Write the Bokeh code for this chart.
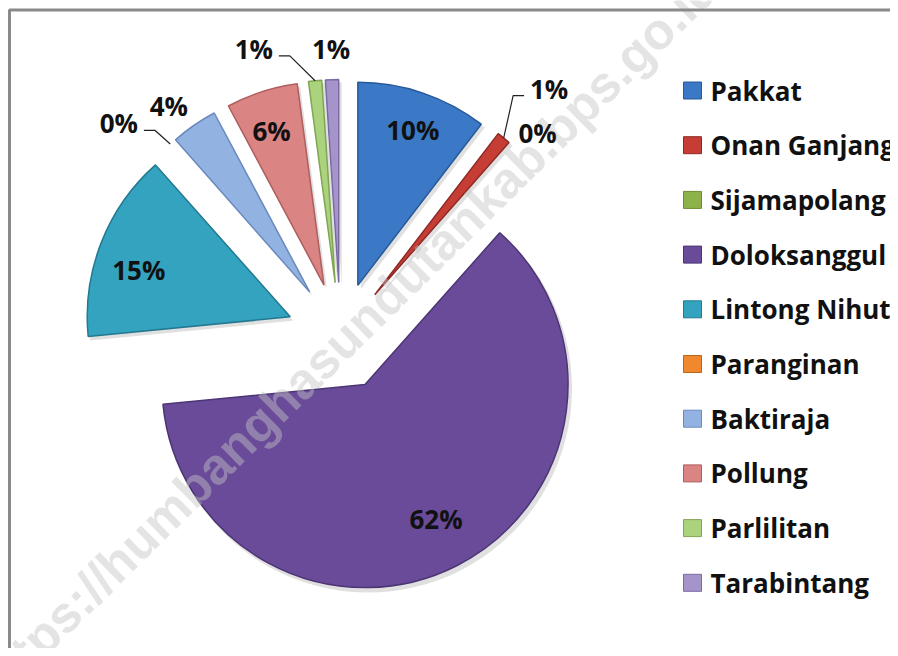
import math
from bokeh.plotting import figure
from bokeh.models import Range1d
from bokeh.core.properties import value
from bokeh.embed import file_html
from bokeh.resources import INLINE

# ---- data ----
categories = ["Pakkat", "Onan Ganjang", "Sijamapolang", "Doloksanggul", "Lintong Nihuta",
              "Paranginan", "Baktiraja", "Pollung", "Parlilitan", "Tarabintang"]
shares = [10.4, 1.1, 0.05, 61.9, 15.0, 0.05, 3.7, 5.7, 1.05, 1.05]

# ---- style ----
fill_colors = ["#3B79C6", "#C63D36", "#8DB24A", "#6A4B99", "#33A3C0",
               "#F0892E", "#92B2E2", "#DB8484", "#ABD27D", "#A494CA"]
edge_colors = ["#28599A", "#8E2A25", "#6A8C33", "#4C3574", "#237A90",
               "#B8661E", "#6A8ABD", "#AE5E5E", "#80A553", "#7A6AA4"]
# label placement: (radius factor from exploded apex, angle tweak in degrees)
label_place = [(0.81, 0.8), (1.33, 0.8), (1.13, 3.2), (0.75, -0.8), (0.78, -4.4),
               (1.25, -5.6), (1.15, -2.4), (0.80, -1.0), (1.22, -13.5), (1.15, 0.0)]
has_leader = [False, True, False, False, False, True, False, False, True, False]

W, H = 890, 648
CX, CY = 340, 312      # pie centre (data = pixel units)
R = 203
EXPLODE = 54
FONT = value("Open Sans")

p = figure(width=W, height=H, output_backend="svg", toolbar_location=None,
           x_range=Range1d(0, W), y_range=Range1d(0, H),
           x_axis_type=None, y_axis_type=None,
           min_border=0, min_border_left=0, min_border_right=0,
           min_border_top=0, min_border_bottom=0)
p.grid.visible = False
p.outline_line_color = None
p.background_fill_color = "white"
p.border_fill_color = "white"

total = sum(shares)
cum = 0.0
starts, ends, mids = [], [], []
for v in shares:
    a0 = cum / total * 360.0
    cum += v
    a1 = cum / total * 360.0
    starts.append(a0)
    ends.append(a1)
    mids.append((a0 + a1) / 2)

ax = [CX + EXPLODE * math.sin(math.radians(m)) for m in mids]
ay = [CY + EXPLODE * math.cos(math.radians(m)) for m in mids]
start_ang = [math.radians(90 - e) for e in ends]
end_ang = [math.radians(90 - s) for s in starts]
edge_alpha = [1.0 if v >= 0.5 else 0.0 for v in shares]
fill_alpha = [1.0 if v >= 0.5 else 0.0 for v in shares]

# soft shadow
p.wedge(x=[x + 3 for x in ax], y=[y - 4 for y in ay], radius=R + 1, radius_units="data",
        start_angle=start_ang, end_angle=end_ang,
        fill_color="#000000", fill_alpha=[0.12 * a for a in fill_alpha], line_color=None)

p.wedge(x=ax, y=ay, radius=R, radius_units="data",
        start_angle=start_ang, end_angle=end_ang,
        fill_color=fill_colors, fill_alpha=fill_alpha,
        line_color=edge_colors, line_alpha=edge_alpha, line_width=1.5)

# watermark
p.text(x=[-16], y=[-44], text=["https://humbanghasundutankab.bps.go.id"],
       angle=[math.radians(44.5)], text_align="left", text_baseline="middle",
       text_font=value("Liberation Sans"), text_font_style="bold",
       text_font_size="51px", text_color="#c4c4c4", text_alpha=0.45)

# data labels
lx, ly, ltxt = [], [], []
for i, v in enumerate(shares):
    k, dt = label_place[i]
    ang = math.radians(mids[i] + dt)
    x = ax[i] + k * R * math.sin(ang)
    y = ay[i] + k * R * math.cos(ang)
    lx.append(x)
    ly.append(y)
    ltxt.append(f"{int(math.floor(v + 0.5))}%")
    if has_leader[i]:
        m = math.radians(mids[i])
        tx = ax[i] + R * math.sin(m)
        ty = ay[i] + R * math.cos(m)
        side = 1 if x > tx else -1
        yl = y - 7
        end_x = x - side * 25
        elb_x = end_x - side * 11
        p.line(x=[tx, elb_x, end_x], y=[ty, yl, yl], line_color="#222222", line_width=1.2)

p.text(x=lx, y=ly, text=ltxt, text_align="center", text_baseline="middle",
       text_font=FONT, text_font_style="bold", text_font_size="26px", text_color="#111111")

# legend
row0, pitch = 558, 54.7
leg_y = [row0 - pitch * i for i in range(len(categories))]
p.rect(x=[692] * len(categories), y=leg_y, width=18, height=17,
       fill_color=fill_colors, line_color=edge_colors, line_width=1)
p.text(x=[710] * len(categories), y=leg_y, text=categories, text_align="left",
       text_baseline="middle", text_font=FONT, text_font_style="bold",
       text_font_size="26px", text_color="#111111")

# frame border (top and left visible in the cropped original)
p.line(x=[9.0, 9.0, W], y=[0, H - 9.5, H - 9.5], line_color="#8a8a8a", line_width=3)

open("out.html", "w").write(file_html(p, INLINE))
